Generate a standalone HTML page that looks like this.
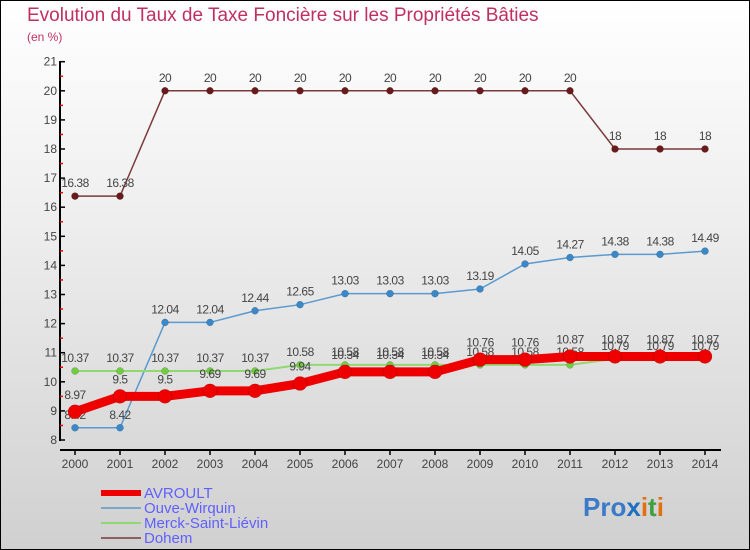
<!DOCTYPE html>
<html><head><meta charset="utf-8">
<style>
body{margin:0;}
#wrap{position:relative;width:748px;height:548px;border:1px solid #000;background:linear-gradient(#ffffff 0%,#eeeeee 40%,#d0d0d0 100%);overflow:hidden;font-family:"Liberation Sans",sans-serif;}
.title{position:absolute;left:26px;top:4px;font-size:19px;color:#c0305f;}
.sub{position:absolute;left:26px;top:29px;font-size:12px;color:#c0305f;}
</style></head><body>
<div id="wrap">
<div class="title">Evolution du Taux de Taxe Foncière sur les Propriétés Bâties</div>
<div class="sub">(en %)</div>
<svg id="svg" width="748" height="548" style="position:absolute;left:0;top:0"></svg>
</div>
<script>
const years=[2000,2001,2002,2003,2004,2005,2006,2007,2008,2009,2010,2011,2012,2013,2014];
const yTicks=[8,9,10,11,12,13,14,15,16,17,18,19,20,21];
const avroult=[8.97,9.5,9.5,9.69,9.69,9.94,10.34,10.34,10.34,10.76,10.76,10.87,10.87,10.87,10.87];
const ouve=[8.42,8.42,12.04,12.04,12.44,12.65,13.03,13.03,13.03,13.19,14.05,14.27,14.38,14.38,14.49];
const merck=[10.37,10.37,10.37,10.37,10.37,10.58,10.58,10.58,10.58,10.58,10.58,10.58,10.79,10.79,10.79];
const dohem=[16.38,16.38,20,20,20,20,20,20,20,20,20,20,18,18,18];
const seriesNames=["AVROULT","Ouve-Wirquin","Merck-Saint-Liévin","Dohem"];
const NS="http://www.w3.org/2000/svg";
const svg=document.getElementById('svg');
function X(i){return 74+i*45;}
function Y(v){return 439-(v-8)*29.1;}
function mk(t,a,p){const e=document.createElementNS(NS,t);for(const k in a)e.setAttribute(k,a[k]);(p||svg).appendChild(e);return e;}
// axes
let ax=mk('line',{x1:59,y1:60,x2:59,y2:440,stroke:'#000','stroke-width':2});


let xa=mk('line',{x1:59,y1:449,x2:720,y2:449,stroke:'#000','stroke-width':2});


yTicks.forEach(v=>{
 mk('line',{x1:59,y1:Y(v),x2:64,y2:Y(v),stroke:'#000','stroke-width':1.5});
 if(v<21) mk('line',{x1:59,y1:Y(v+0.5),x2:62,y2:Y(v+0.5),stroke:'#e00','stroke-width':1.5});
 const t=mk('text',{x:56,y:Y(v)+4,'text-anchor':'end','font-size':12,fill:'#444'});
 t.textContent=v;
 
 
});
years.forEach((y,i)=>{
 mk('line',{x1:X(i),y1:449,x2:X(i),y2:454,stroke:'#000','stroke-width':1.5});
 const t=mk('text',{x:X(i),y:467,'text-anchor':'middle','font-size':12,fill:'#444'});
 t.textContent=y;
 
 
});
function series(data,color,w,r,fill,name,labelOff){
 const g=mk('g',{});
 
 
 mk('polyline',{points:data.map((v,i)=>X(i)+','+Y(v)).join(' '),fill:'none',stroke:color,'stroke-width':w},g);
 data.forEach((v,i)=>{
  const c=mk('circle',{cx:X(i),cy:Y(v),r:r,fill:fill,stroke:'rgba(0,0,0,0.25)','stroke-width':0.5},g);
  
  
  const t=mk('text',{x:X(i),y:Y(v)-labelOff,'text-anchor':'middle','font-size':12,fill:'#444','letter-spacing':'-0.5'},g);
  t.textContent=String(v);
  
  
 });
}
series(dohem,'#7a3a3a',1.5,3.5,'#6a1a1a','dohem-series',9);
series(ouve,'#5a9ad0',1.5,3.5,'#3a88c8','ouve-wirquin-series',9);
series(merck,'#90d870',2,3.5,'#70cc40','merck-series',9);
series(avroult,'#ee0000',9,7,'#ee0000','avroult-series',13);
// legend
const colors=['#ee0000','#7aa8cc','#90d870','#8a6060'];
const widths=[6,2,2,2];
seriesNames.forEach((n,i)=>{
 const y=492+i*15;
 const g=mk('g',{});
 
 
 mk('line',{x1:100,y1:y,x2:140,y2:y,stroke:colors[i],'stroke-width':widths[i]},g);
 const t=mk('text',{x:143,y:y+5,'font-size':15,fill:'#6060ff'},g);
 t.textContent=n;
});
// logo
const lg=mk('text',{x:582,y:515,'font-size':26,'font-weight':'bold'});


[['Pro','#3a7ac8'],['x','#2070c0'],['i','#e07010'],['t','#40a040'],['i','#e07010']].forEach(p=>{const s=mk('tspan',{fill:p[1]},lg);s.textContent=p[0];});
</script>
</body></html>
